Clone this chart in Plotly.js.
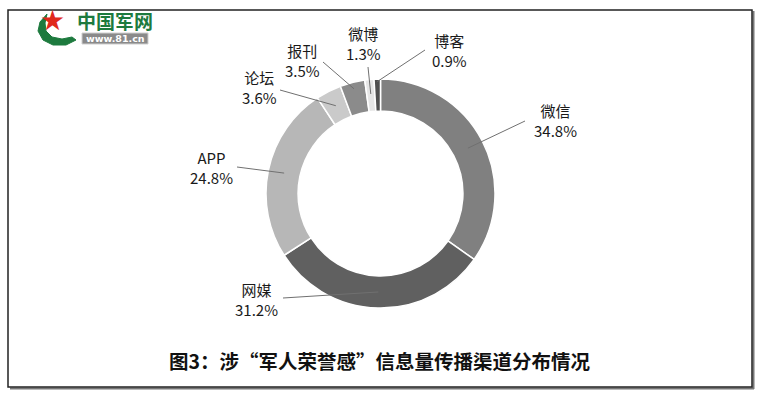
<!DOCTYPE html>
<html>
<head>
<meta charset="utf-8">
<script src="https://cdn.plot.ly/plotly-3.0.1.min.js"></script>
<style>html,body{margin:0;padding:0;background:#fff;}#chart{width:760px;height:399px;}</style>
</head>
<body>
<div id="chart"></div>
<script>
// ---- data ----
const channels = ["微信", "网媒", "APP", "论坛", "报刊", "微博", "博客"];
const shares = [34.8, 31.2, 24.8, 3.6, 3.5, 1.3, 0.9];
const sliceColors = ["#808080", "#606060", "#b7b7b7", "#cacaca", "#8b8b8b", "#e6e6e6", "#505050"];
const captionText = "图3：涉“军人荣誉感”信息量传播渠道分布情况";

// ---- layout helpers (pixel positions of labels) ----
const W = 760, H = 399;
const px = x => x / W;
const py = y => 1 - y / H;
const cx = 380.5, cy = 193.5, rOut = 114.5, hole = 0.72;
const labelCenters = [[555,120.5],[256,299],[212,167],[259,87],[302,60],[363,43.5],[449,50.5]];
const lineOuter = [[525,121],[283,298],[237,167],[280,90],[323,62],[368,67],[425,50]];
const lineRadius = [98.5, 98.5, 98.5, 98.5, 108, 100, 112];

const total = shares.reduce((a, b) => a + b, 0);
const shapes = [];
const annotations = [];
let cum = 0;
shares.forEach((v, i) => {
  const mid = (cum + v / 2) / total;
  cum += v;
  const th = 2 * Math.PI * mid;
  const ix = cx + lineRadius[i] * Math.sin(th);
  const iy = cy - lineRadius[i] * Math.cos(th);
  shapes.push({type: "line", xref: "paper", yref: "paper",
    x0: px(ix), y0: py(iy), x1: px(lineOuter[i][0]), y1: py(lineOuter[i][1]),
    line: {color: "#707070", width: 1}});
  annotations.push({xref: "paper", yref: "paper", x: px(labelCenters[i][0]), y: py(labelCenters[i][1]),
    xanchor: "center", yanchor: "middle", showarrow: false, align: "center",
    text: channels[i] + "<br>" + v.toFixed(1) + "%",
    font: {family: "Noto Sans CJK SC, Noto Sans, sans-serif", size: 15, color: "#1a1a1a"}});
});

// frame with shadow
shapes.push({type: "line", xref: "paper", yref: "paper", x0: px(753.5), y0: py(11), x1: px(753.5), y1: py(389), line: {color: "#777", width: 2}});
shapes.push({type: "line", xref: "paper", yref: "paper", x0: px(10), y0: py(388.5), x1: px(754), y1: py(388.5), line: {color: "#777", width: 2}});
shapes.push({type: "rect", xref: "paper", yref: "paper", x0: px(8), y0: py(10), x1: px(752), y1: py(387), line: {color: "#222", width: 1.5}});

// logo swoosh
const sw = [[47,14],[40,22],[38,31],[43,40],[53,45],[66,45],[76,40],[72,37],[62,39],[52,37],[46,31],[45,23]];
shapes.push({type: "path", xref: "paper", yref: "paper",
  path: "M " + sw.map(p => px(p[0]) + "," + py(p[1])).join(" L ") + " Z",
  fillcolor: "#1d7a3e", line: {color: "#1d7a3e", width: 1}});
// url pill
shapes.push({type: "rect", xref: "paper", yref: "paper", x0: px(82), y0: py(33), x1: px(148), y1: py(44),
  fillcolor: "#8a8a8a", line: {color: "#cfcfcf", width: 1}});

annotations.push({xref: "paper", yref: "paper", x: px(52), y: py(21), xanchor: "center", yanchor: "middle", showarrow: false,
  text: "★", font: {family: "DejaVu Sans", size: 28, color: "#e0281c"}});
annotations.push({xref: "paper", yref: "paper", x: px(115), y: py(21), xanchor: "center", yanchor: "middle", showarrow: false,
  text: "<b>中国军网</b>", font: {family: "Noto Sans CJK SC", size: 19, color: "#1d7a3e"}});
annotations.push({xref: "paper", yref: "paper", x: px(115), y: py(38.5), xanchor: "center", yanchor: "middle", showarrow: false,
  text: "<b>www.81.cn</b>", font: {family: "DejaVu Sans", size: 9.5, color: "#ffffff"}});
// caption
annotations.push({xref: "paper", yref: "paper", x: px(380), y: py(360), xanchor: "center", yanchor: "middle", showarrow: false,
  text: captionText, font: {family: "Noto Sans CJK SC", size: 19.5, weight: 700, color: "#111"}});

const trace = {
  type: "pie",
  labels: channels,
  values: shares,
  sort: false,
  direction: "clockwise",
  rotation: 0,
  hole: hole,
  textinfo: "none",
  hoverinfo: "label+percent",
  marker: {colors: sliceColors, line: {color: "#ffffff", width: 1.5}},
  domain: {x: [px(cx - rOut), px(cx + rOut)], y: [py(cy + rOut), py(cy - rOut)]},
  showlegend: false
};

Plotly.newPlot("chart", [trace], {
  width: W, height: H,
  margin: {l: 0, r: 0, t: 0, b: 0},
  paper_bgcolor: "#ffffff",
  showlegend: false,
  shapes: shapes,
  annotations: annotations
}, {displayModeBar: false, staticPlot: true});
</script>
</body>
</html>
